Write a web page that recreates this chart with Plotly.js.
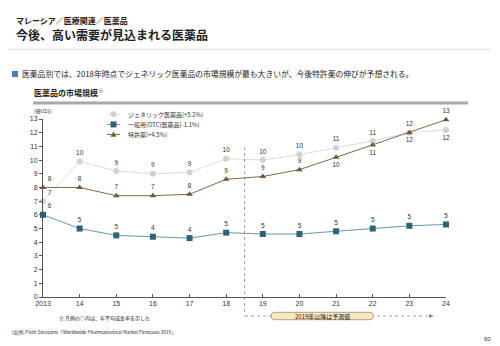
<!DOCTYPE html>
<html>
<head>
<meta charset="utf-8">
<script src="https://cdn.plot.ly/plotly-3.0.1.min.js"></script>
<style>html,body{margin:0;padding:0;background:#fff;}#chart{width:500px;height:346px;}</style>
</head>
<body>
<div id="chart"></div>
<script>
// ---- data ----
const years = [2013, 2014, 2015, 2016, 2017, 2018, 2019, 2020, 2021, 2022, 2023, 2024];
const yearLabels = ['2013', '14', '15', '16', '17', '18', '19', '20', '21', '22', '23', '24'];
const seriesNames = ['ジェネリック医薬品(+5.2%)', '一般用(OTC)医薬品(-1.1%)', '特許薬(+4.5%)'];
const generic = [7.0, 9.9, 9.2, 9.0, 9.1, 10.1, 10.0, 10.4, 10.9, 11.4, 12.0, 12.2];
const otc     = [6.0, 5.0, 4.5, 4.4, 4.3, 4.7, 4.6, 4.6, 4.8, 5.0, 5.2, 5.3];
const patent  = [8.0, 8.0, 7.4, 7.4, 7.5, 8.6, 8.8, 9.3, 10.2, 11.1, 12.0, 12.95];
const forecastStart = 2018.5;

// ---- geometry helpers (pixel -> paper) ----
const L = 43, R = 54, T = 119, B = 49, W = 500, H = 346;
const PW = W - L - R, PH = H - T - B;
const X = px => (px - L) / PW;
const Y = py => (H - B - py) / PH;

const FONT = 'Liberation Sans, Arial, Noto Sans CJK JP, sans-serif';
const JFONT = 'Noto Sans CJK JP, Liberation Sans, sans-serif';

const cGen = '#d2d2d2', cGenLine = '#dcdcdc';
const cOtc = '#2b6479', cOtcLine = '#6797aa';
const cPat = '#6f5b36', cPatLine = '#7d6a47';

const labels = arr => arr.map(v => String(Math.round(v)));
const genPos = years.map((y, i) => i === 0 ? 'top right' : (i >= 10 ? 'bottom center' : 'top center'));
const patPos = years.map((y, i) => i === 0 ? 'top right' : ((i === 8 || i === 9) ? 'bottom center' : 'top center'));
const otcPos = years.map((y, i) => i === 0 ? 'top right' : 'top center');

const tfont = {family: FONT, size: 6.5, color: '#333'};

const traces = [
  {x: years, y: generic, name: seriesNames[0], mode: 'lines+markers+text', text: labels(generic),
   textposition: genPos, textfont: tfont, cliponaxis: false,
   line: {color: cGenLine, width: 1}, marker: {symbol: 'circle', size: 6, color: cGen}},
  {x: years, y: patent, name: seriesNames[2], mode: 'lines+markers+text', text: labels(patent),
   textposition: patPos, textfont: tfont, cliponaxis: false,
   line: {color: cPatLine, width: 1}, marker: {symbol: 'triangle-up', size: 6, color: cPat}},
  {x: years, y: otc, name: seriesNames[1], mode: 'lines+markers+text', text: labels(otc),
   textposition: otcPos, textfont: tfont, cliponaxis: false,
   line: {color: cOtcLine, width: 1}, marker: {symbol: 'square', size: 6, color: cOtc}}
];

const ann = (px, py, text, size, opts) => Object.assign({
  xref: 'paper', yref: 'paper', x: X(px), y: Y(py), text: text, showarrow: false,
  xanchor: 'left', yanchor: 'middle', font: {family: JFONT, size: size, color: '#222'}
}, opts || {});

// custom legend
const legY = [114.3, 124.4, 134.4];
const legX0 = 107, legX1 = 120, legXc = 113.5, ms = 3;

const annotations = [
  ann(14, 20, '<b>マレーシア／医療関連／医薬品</b>', 8),
  ann(14, 35, '<b>今後、高い需要が見込まれる医薬品</b>', 12),
  ann(20, 74, '医薬品別では、2018年時点でジェネリック医薬品の市場規模が最も大きいが、今後特許薬の伸びが予想される。', 7.8),
  ann(32, 92.5, '<b>医薬品の市場規模</b><sup>※</sup>', 8),
  ann(32, 110, '(億US$)', 5),
  ann(126, legY[0], seriesNames[0], 6, {font: {family: JFONT, size: 6, color: '#333'}}),
  ann(126, legY[1], seriesNames[1], 6, {font: {family: JFONT, size: 6, color: '#333'}}),
  ann(126, legY[2], seriesNames[2], 6, {font: {family: JFONT, size: 6, color: '#333'}}),
  ann(57, 317.5, '※ 凡例の○内は、年平均成長率を示した', 5),
  ann(10, 332.5, '(出所) Fitch Solutions「Worldwide Pharmaceutical Market Forecasts 2019」', 4.7),
  ann(482, 338.5, '60', 6, {font: {family: FONT, size: 6, color: '#333'}}),
  ann(322, 316, '2019年以降は予測値', 6, {xanchor: 'center', font: {family: JFONT, size: 6, color: '#222'}})
];

const P = (px, py) => X(px) + ',' + Y(py);
// rounded box for forecast label
const bx0 = 271, bx1 = 373.5, by0 = 312.3, by1 = 319.7, br = 3.7, bym = (by0 + by1) / 2;
const boxPath = 'M' + P(bx0 + br, by0) + ' L' + P(bx1 - br, by0) +
  ' Q' + P(bx1, by0) + ' ' + P(bx1, bym) + ' Q' + P(bx1, by1) + ' ' + P(bx1 - br, by1) +
  ' L' + P(bx0 + br, by1) + ' Q' + P(bx0, by1) + ' ' + P(bx0, bym) +
  ' Q' + P(bx0, by0) + ' ' + P(bx0 + br, by0) + ' Z';
const arrowPath = 'M' + P(429, 314) + ' L' + P(434, 316) + ' L' + P(429, 318) + ' Z';
const triPath = 'M' + P(legXc, legY[2] - ms) + ' L' + P(legXc + ms, legY[2] + ms * 0.8) +
  ' L' + P(legXc - ms, legY[2] + ms * 0.8) + ' Z';

const legLine = (py, c) => ({type: 'line', xref: 'paper', yref: 'paper', x0: X(legX0), x1: X(legX1),
  y0: Y(py), y1: Y(py), line: {color: c, width: 1}});

const shapes = [
  {type: 'line', xref: 'paper', yref: 'paper', x0: X(9), x1: X(490), y0: Y(49.3), y1: Y(49.3),
   line: {color: '#d0d0d0', width: 0.8}},
  {type: 'rect', xref: 'paper', yref: 'paper', x0: X(12), x1: X(18), y0: Y(71), y1: Y(77),
   fillcolor: '#4a7cc0', line: {width: 0}},
  {type: 'line', xref: 'paper', yref: 'paper', x0: X(33), x1: X(468), y0: Y(103), y1: Y(103),
   line: {color: '#a8a8a8', width: 3}},
  {type: 'line', xref: 'x', yref: 'paper', x0: forecastStart, x1: forecastStart, y0: Y(147), y1: Y(316),
   line: {color: '#888', width: 0.8, dash: 'dot'}},
  {type: 'line', xref: 'paper', yref: 'paper', x0: X(245), x1: X(431), y0: Y(316), y1: Y(316),
   line: {color: '#888', width: 0.8, dash: 'dot'}},
  {type: 'path', xref: 'paper', yref: 'paper', path: arrowPath, fillcolor: '#888', line: {width: 0}},
  {type: 'path', xref: 'paper', yref: 'paper', path: boxPath, fillcolor: '#f7e8c2',
   line: {color: '#9c8c6c', width: 0.8}},
  legLine(legY[0], cGenLine),
  {type: 'circle', xref: 'paper', yref: 'paper', x0: X(legXc - ms), x1: X(legXc + ms),
   y0: Y(legY[0] - ms), y1: Y(legY[0] + ms), fillcolor: cGen, line: {width: 0}},
  legLine(legY[1], cOtcLine),
  {type: 'rect', xref: 'paper', yref: 'paper', x0: X(legXc - ms), x1: X(legXc + ms),
   y0: Y(legY[1] - ms), y1: Y(legY[1] + ms), fillcolor: cOtc, line: {width: 0}},
  legLine(legY[2], cPatLine),
  {type: 'path', xref: 'paper', yref: 'paper', path: triPath, fillcolor: cPat, line: {width: 0}}
];

const layout = {
  width: W, height: H,
  margin: {l: L, r: R, t: T, b: B, pad: 0},
  paper_bgcolor: '#fff', plot_bgcolor: '#fff',
  showlegend: false,
  font: {family: FONT, size: 7, color: '#333'},
  xaxis: {range: [2013, 2024], tickvals: years, ticktext: yearLabels, showgrid: false, zeroline: false,
    showline: true, linecolor: '#555', linewidth: 1, ticks: 'inside', ticklen: 3, tickcolor: '#555',
    tickfont: {family: FONT, size: 7, color: '#333'}, fixedrange: true},
  yaxis: {range: [0, 13], dtick: 1, showgrid: false, zeroline: false, showline: true, linecolor: '#555',
    linewidth: 1, ticks: 'outside', ticklen: 3, tickcolor: '#555',
    tickfont: {family: FONT, size: 7, color: '#333'}, fixedrange: true},
  annotations: annotations,
  shapes: shapes
};

Plotly.newPlot('chart', traces, layout, {staticPlot: true, displayModeBar: false});
</script>
</body>
</html>
